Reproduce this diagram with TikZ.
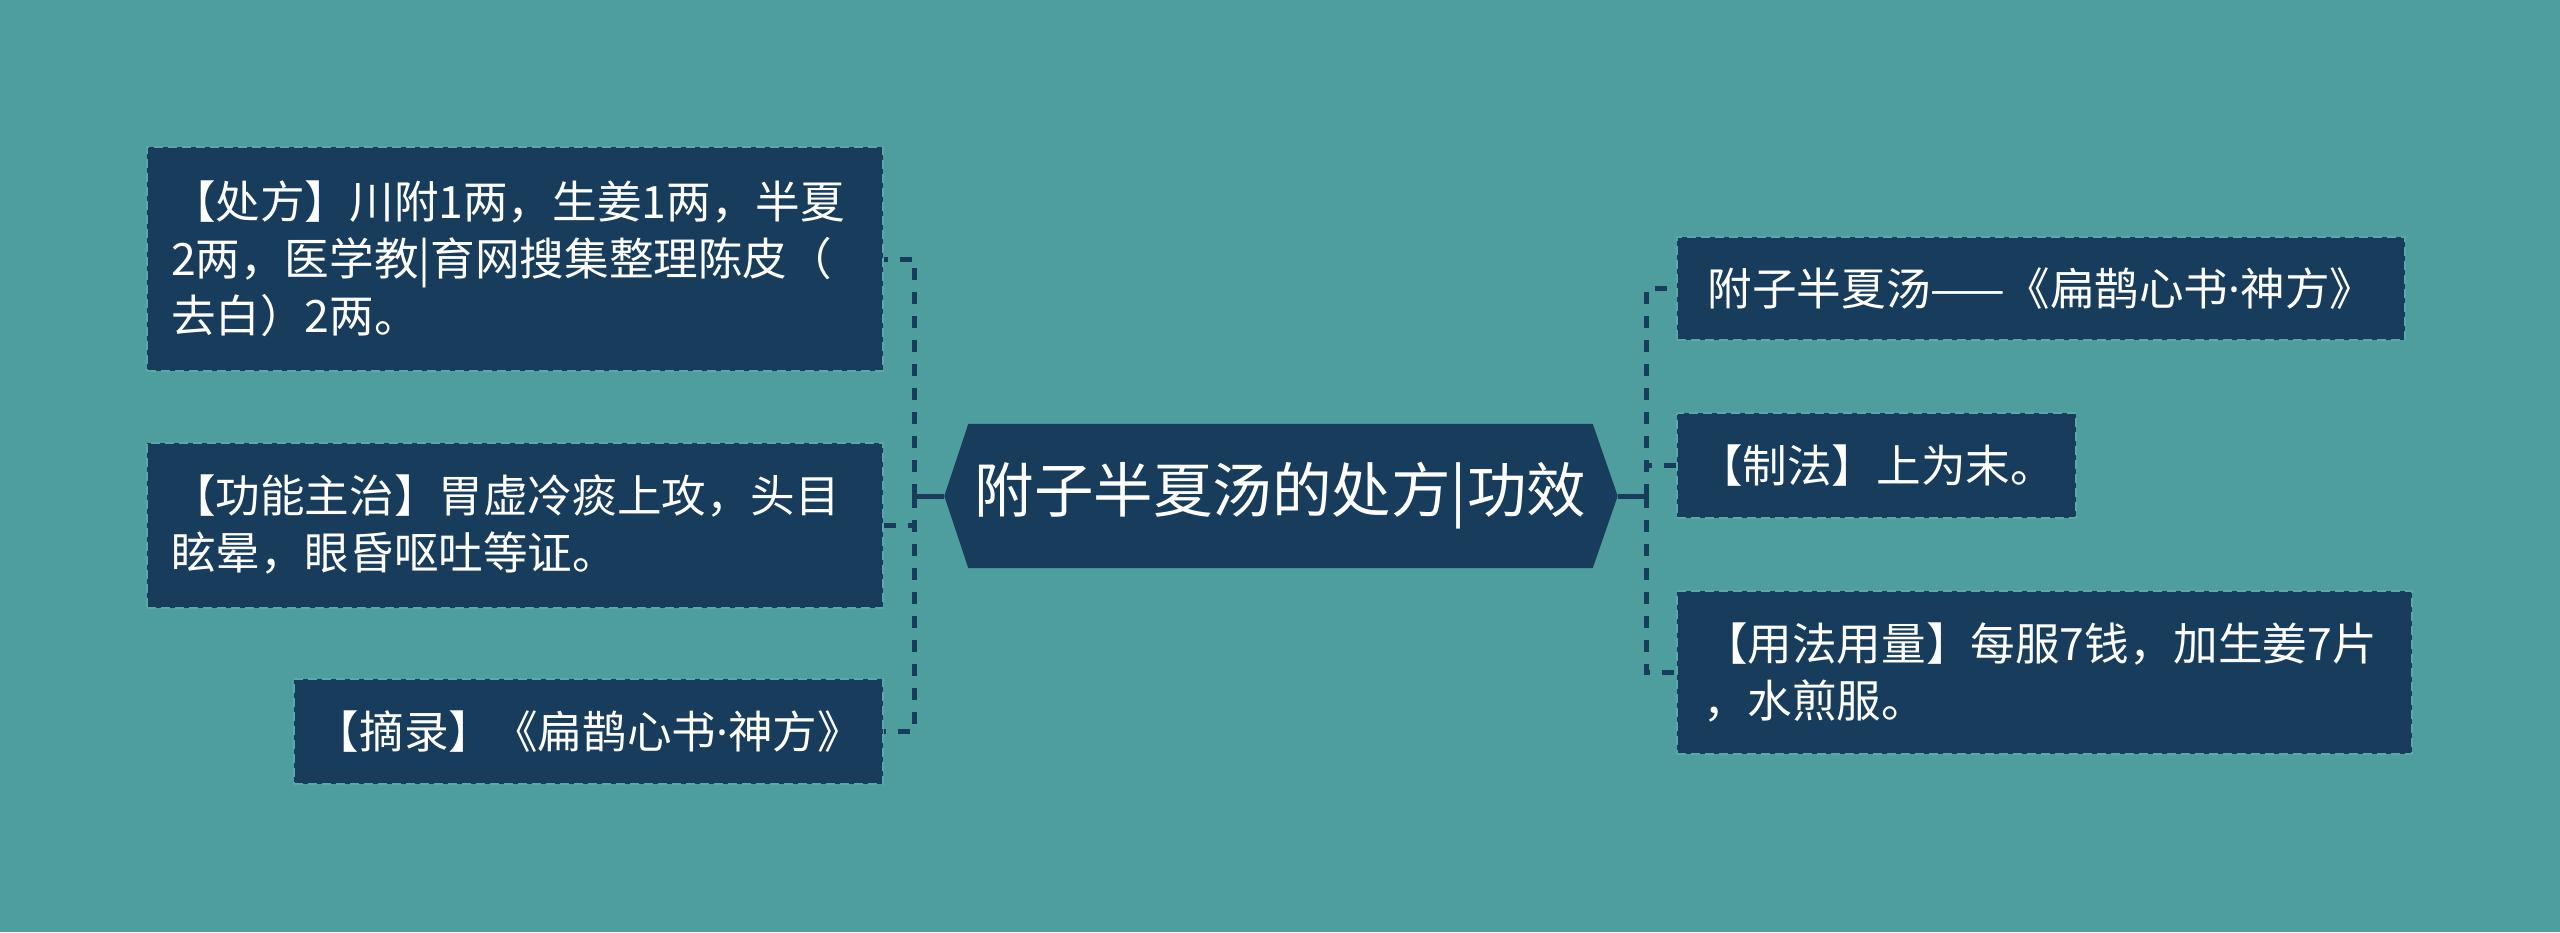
\documentclass[tikz,border=0pt]{standalone}
\usepackage{fontspec}
\newfontfamily\cjk{Noto Sans CJK SC}
\newfontfamily\latinf{Noto Sans}
\newcommand{\mdot}{{\latinf ·}}
\usetikzlibrary{backgrounds}
\definecolor{bgc}{HTML}{4E9E9D}
\definecolor{navy}{HTML}{173C5C}
\definecolor{edgec}{HTML}{5AA8A8}
\tikzset{
  box/.style={fill=navy, draw=edgec, dash pattern=on 9pt off 5pt, line width=2pt,
    text=white, font=\cjk\fontsize{44.6}{57}\selectfont, inner sep=0pt, align=left},
  conn/.style={draw=navy, line width=5pt},
  dconn/.style={conn, dash pattern=on 12pt off 12pt},
  centre/.style={text=white, font=\cjk\fontsize{59.5}{70}\selectfont, inner sep=0pt,
    minimum width=624pt, minimum height=144pt}
}
\begin{document}
\begin{tikzpicture}[x=1pt,y=-1pt]
\useasboundingbox (0,0) rectangle (2560,932);
\begin{pgfonlayer}{background}
\fill[bgc] (0,0) rectangle (2560,932);
\end{pgfonlayer}

% central node
\node[centre] (c) at (1280.5,496) {附子半夏汤的处方|功效};
\coordinate (cl) at ([xshift=-24pt]c.west);
\coordinate (cr) at ([xshift=25pt]c.east);
\begin{pgfonlayer}{background}
\fill[navy] (c.north west) -- (c.north east) -- (cr) -- (c.south east) -- (c.south west) -- (cl) -- cycle;
\end{pgfonlayer}

% left boxes
\node[box, minimum width=736pt, minimum height=224pt, text width=688pt] (l1) at (515,259)
  {【处方】川附1两，生姜1两，半夏\\2两，医学教|育网搜集整理陈皮（\\去白）2两。};
\node[box, minimum width=736pt, minimum height=165pt, text width=688pt] (l2) at (515,525)
  {【功能主治】胃虚冷痰上攻，头目\\眩晕，眼昏呕吐等证。};
\node[box, minimum width=589pt, minimum height=105pt, align=center] (l3) at (588.5,731.5)
  {【摘录】《扁鹊心书\mdot 神方》};

% right boxes
\node[box, minimum width=728pt, minimum height=103pt, align=center] (r1) at (2041,288.5)
  {附子半夏汤——《扁鹊心书\mdot 神方》};
\node[box, minimum width=399pt, minimum height=105pt, align=center] (r2) at (1876.5,465.5)
  {【制法】上为末。};
\node[box, minimum width=735pt, minimum height=163pt, text width=683pt] (r3) at (2044.5,672.5)
  {【用法用量】每服7钱，加生姜7片\\，水煎服。};

% connectors
\coordinate (L) at (914.5,496);
\coordinate (R) at (1646,496);
\draw[conn] (cl) -- (L);
\draw[conn] (cr) -- (R);
\draw[dconn] (L) |- (l1.east);
\draw[dconn] (L) |- (l2.east);
\draw[dconn] (L) |- (l3.east);
\draw[dconn] (R) |- (r1.west);
\draw[dconn] (R) |- (r2.west);
\draw[dconn] (R) |- (r3.west);
\end{tikzpicture}
\end{document}
